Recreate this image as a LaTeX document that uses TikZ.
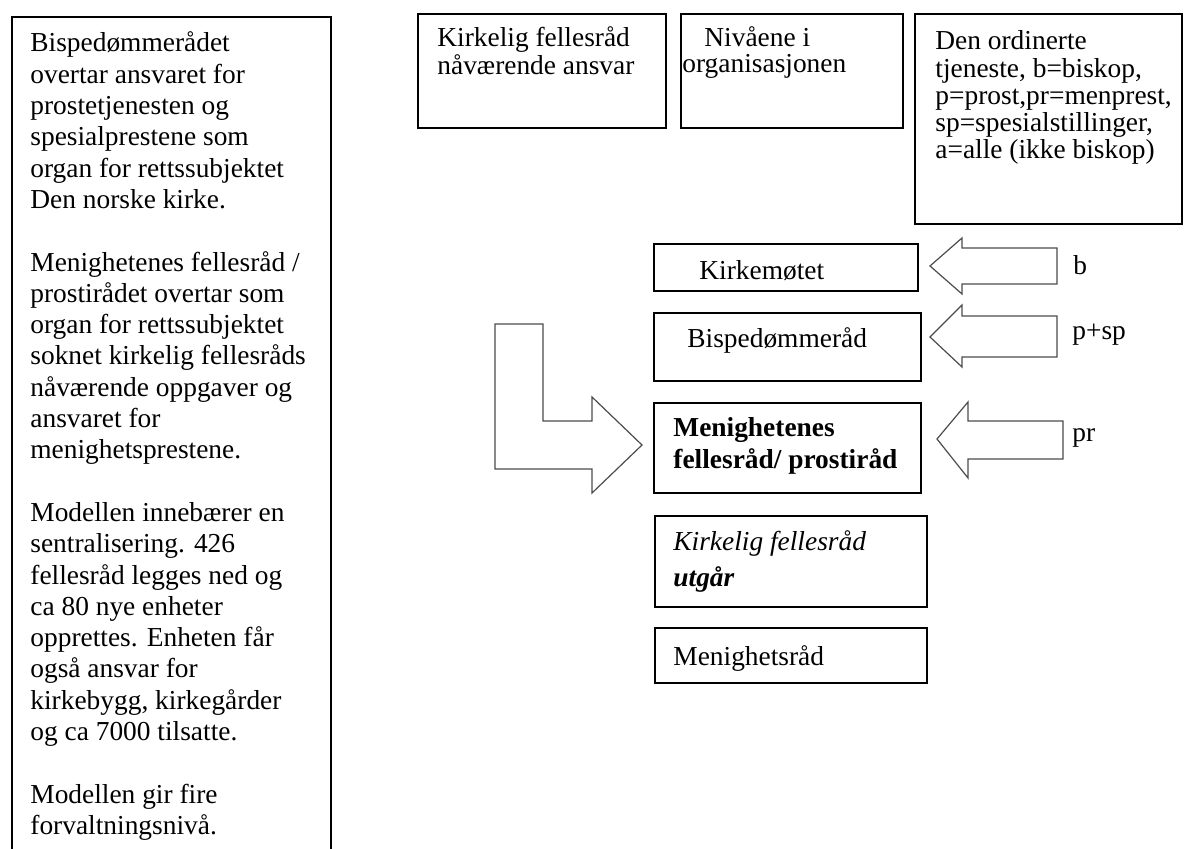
\documentclass[tikz,border=0pt]{standalone}
\usepackage{fontspec}
\setmainfont{Liberation Serif}
\newcommand\fsz[1]{\fontsize{13.7}{#1}\selectfont}
\newcommand\lines[2]{{\fsz{#1}\begin{tabular}[t]{@{}l@{}}#2\end{tabular}}}
\begin{document}
\begin{tikzpicture}[x=0.5pt,y=-0.5pt,
  box/.style={draw=black, line width=1.1pt, rectangle, inner sep=0pt, anchor=north west},
  txt/.style={anchor=base west, inner sep=0pt, font=\fsz{15.6pt}},
  blk/.style={draw=black!70, line width=0.6pt, fill=white, line join=miter}]
\useasboundingbox (0,0) rectangle (1186,849);
\fill[white] (0,0) rectangle (1186,849);

% left explanatory box (open at the bottom)
\node[box, minimum width=159.5pt, minimum height=440pt] (left) at (11,16) {};
\node[txt] (lefttext) at (30,52) {\lines{15.65pt}{%
Bispedømmerådet\\
overtar ansvaret for\\
prostetjenesten og\\
spesialprestene som\\
organ for rettssubjektet\\
Den norske kirke.\\[15.65pt]
Menighetenes fellesråd /\\
prostirådet overtar som\\
organ for rettssubjektet\\
soknet kirkelig fellesråds\\
nåværende oppgaver og\\
ansvaret for\\
menighetsprestene.\\[15.65pt]
Modellen innebærer en\\
sentralisering. 426\\
fellesråd legges ned og\\
ca 80 nye enheter\\
opprettes. Enheten får\\
også ansvar for\\
kirkebygg, kirkegårder\\
og ca 7000 tilsatte.\\[15.65pt]
Modellen gir fire\\
forvaltningsnivå.}};

% header boxes
\node[box, minimum width=124pt, minimum height=57pt] (h1) at (417,13) {};
\node[txt] (h1t) at (437,47) {\lines{12pt}{Kirkelig fellesråd\\nåværende ansvar}};
\node[box, minimum width=111pt, minimum height=57pt] (h2) at (680,13) {};
\node[txt] (h2t) at (682,47) {\lines{12pt}{\hspace*{11pt}Nivåene i\\organisasjonen}};
\node[box, minimum width=133.5pt, minimum height=105pt] (h3) at (914,13) {};
\node[txt] (h3t) at (935,50) {\lines{13.6pt}{Den ordinerte\\tjeneste, b=biskop,\\p=prost,pr=menprest,\\sp=spesialstillinger,\\a=alle (ikke biskop)}};

% level boxes
\node[box, minimum width=132pt, minimum height=23.5pt] (km) at (653,243) {};
\node[txt] (kmt) at (699,280) {Kirkemøtet};
\node[box, minimum width=133.5pt, minimum height=34pt] (bd) at (653,312) {};
\node[txt] (bdt) at (687,348) {Bispedømmeråd};
\node[box, minimum width=133.5pt, minimum height=45pt] (mf) at (653,402) {};
\node[txt] (mft) at (673,437) {\lines{15.5pt}{\bfseries Menighetenes\\\bfseries fellesråd/ prostiråd}};
\node[box, minimum width=136pt, minimum height=45.5pt] (kf) at (654,515) {};
\node[txt] (kft) at (673,550) {\lines{18.3pt}{\itshape Kirkelig fellesråd\\\itshape\bfseries utgår}};
\node[box, minimum width=136pt, minimum height=27.5pt] (mr) at (654,627) {};
\node[txt] (mrt) at (673,665) {Menighetsråd};

% block arrows from the right
\draw[blk] (930,266) -- (962,238) -- (962,248) -- (1057,248) -- (1057,284) -- (962,284) -- (962,294) -- cycle;
\draw[blk] (930,337) -- (962,305) -- (962,316) -- (1057,316) -- (1057,357) -- (962,357) -- (962,367) -- cycle;
\draw[blk] (937,439) -- (968,402) -- (968,421) -- (1063,421) -- (1063,459) -- (968,459) -- (968,478) -- cycle;
\node[txt] (lb) at (1073,275) {b};
\node[txt] (lpsp) at (1072,340) {p+sp};
\node[txt] (lpr) at (1072,441) {pr};

% bent arrow into Menighetenes fellesråd
\draw[blk] (495,324) -- (543,324) -- (543,421) -- (592,421) -- (592,397) -- (642,445) -- (592,493) -- (592,469) -- (495,469) -- cycle;
\end{tikzpicture}
\end{document}
